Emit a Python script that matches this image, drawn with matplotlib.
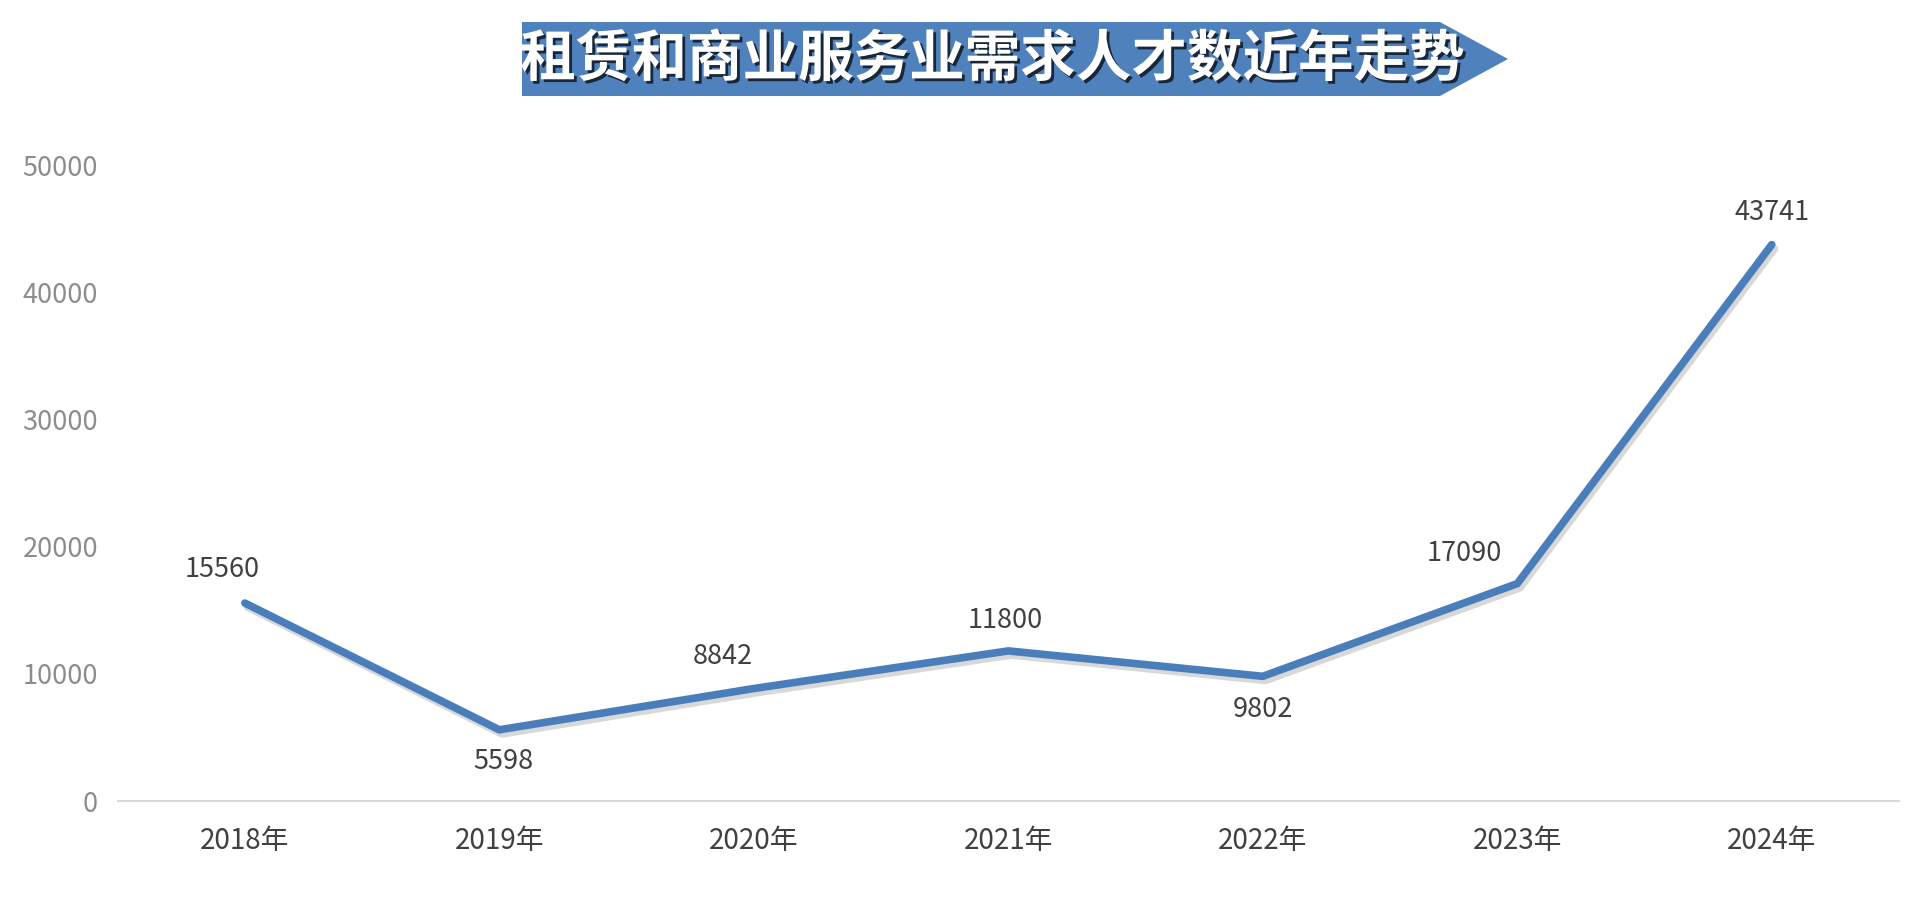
import matplotlib
matplotlib.use("Agg")
import matplotlib.pyplot as plt
import matplotlib.patheffects as pe
from matplotlib.patches import Polygon

plt.rcParams['font.family'] = ['Noto Sans CJK SC', 'DejaVu Sans']

# ---- data ----
title = "租赁和商业服务业需求人才数近年走势"
years = ["2018年", "2019年", "2020年", "2021年", "2022年", "2023年", "2024年"]
values = [15560, 5598, 8842, 11800, 9802, 17090, 43741]
yticks = [0, 10000, 20000, 30000, 40000, 50000]

# label offsets (points) relative to each point
label_offsets = [(-16, 24), (3, -23), (-22, 23), (-2, 22), (0, -24), (-38, 22), (0, 23)]

W, H = 1920, 909
fig = plt.figure(figsize=(W / 100, H / 100), dpi=100)
fig.patch.set_facecolor("white")

ax = fig.add_axes([117.6 / W, 1 - 801 / H, (1899 - 117.6) / W, (801 - 165) / H])
x = list(range(len(years)))
line_color = "#4A7EBB"
ax.plot(x, values, color=line_color, lw=5.5, solid_capstyle="round", solid_joinstyle="miter",
        path_effects=[pe.SimpleLineShadow(offset=(2, -3), shadow_color="#808080", alpha=0.3),
                      pe.Normal()], zorder=3)

for xi, v, (dx, dy) in zip(x, values, label_offsets):
    ax.annotate(str(v), (xi, v), xytext=(dx, dy), textcoords="offset points",
                ha="center", va="center", fontsize=19.5, color="#404040", zorder=4)

ax.set_xlim(-0.5, len(years) - 0.5)
ax.set_ylim(0, 50000)
ax.set_yticks(yticks)
ax.set_yticklabels([str(t) for t in yticks])
ax.set_xticks(x)
ax.set_xticklabels(years)
ax.tick_params(axis="y", length=0, pad=14, labelsize=19.5, labelcolor="#8C8C8C")
ax.tick_params(axis="x", length=0, pad=18, labelsize=20, labelcolor="#404040")
for s in ["top", "right", "left"]:
    ax.spines[s].set_visible(False)
ax.spines["bottom"].set_color("#D9D9D9")
ax.spines["bottom"].set_linewidth(1.5)
ax.set_facecolor("white")

# ---- title banner (pentagon arrow) ----
pts = [(522, 22), (1440, 22), (1508, 59), (1440, 96), (522, 96)]
poly = Polygon([(px / W, 1 - py / H) for px, py in pts], closed=True,
               transform=fig.transFigure, facecolor="#4F81BD", edgecolor="none", zorder=1)
fig.patches.append(poly)
fig.text(992 / W, 1 - 60 / H, title, ha="center", va="center", fontsize=40,
         fontweight="bold", color="white",
         path_effects=[pe.withSimplePatchShadow(offset=(2, -2), shadow_rgbFace="black", alpha=0.7)])

fig.savefig("out.png", dpi=100, facecolor="white")
